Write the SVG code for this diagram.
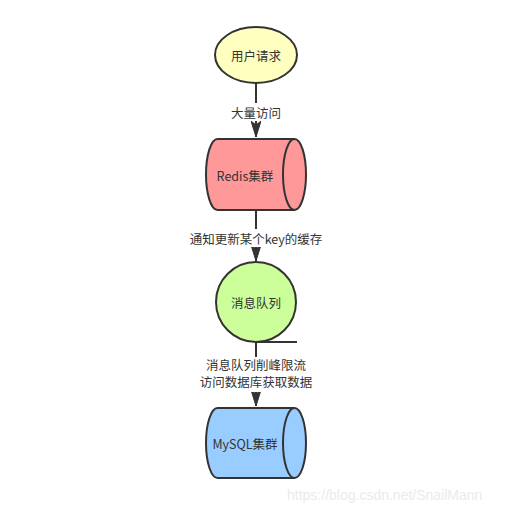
<svg xmlns="http://www.w3.org/2000/svg" width="517" height="512" viewBox="0 0 517 512">
<style>
.s{stroke:#333;stroke-width:2}
.t{font-family:"Noto Sans CJK SC","Liberation Sans",sans-serif;font-size:12.5px;fill:#333;text-anchor:middle;dominant-baseline:central}
.t2{font-family:"Liberation Sans","Noto Sans CJK SC",sans-serif}
.c{fill:none;stroke:#333;stroke-width:2}
</style>
<defs>
<marker id="arrv" viewBox="0 0 16 10" refX="16" refY="5" markerWidth="16" markerHeight="10" markerUnits="userSpaceOnUse" orient="auto">
<path d="M0,0 L16,5 L0,10 L4,5 Z" fill="#333" stroke="#333" stroke-width="1"/>
</marker>
</defs>
<rect width="517" height="512" fill="#fff"/>
<g id="connectors">
<path class="c" d="M256,83 V137" marker-end="url(#arrv)"/>
<path class="c" d="M256,210 V261" marker-end="url(#arrv)"/>
<path class="c" d="M297,342 H256 V406" marker-end="url(#arrv)"/>
<rect x="228" y="103" width="56" height="18" fill="#fff"/>
<text class="t" x="256" y="112">大量访问</text>
<rect x="186" y="229" width="140" height="18" fill="#fff"/>
<text class="t" x="256" y="238">通知更新某个key的缓存</text>
<rect x="196" y="357" width="120" height="35" fill="#fff"/>
<text class="t t2" x="256" y="366">消息队列削峰限流</text>
<text class="t t2" x="256" y="383">访问数据库获取数据</text>
</g>
<g id="user">
<ellipse class="s" cx="256" cy="55" rx="41" ry="28" fill="#FFFFC0"/>
<text class="t" x="256" y="55">用户请求</text>
</g>
<g id="redis">
<path class="s" fill="#FF9999" d="M217.5,139 H294.5 A11.5,35.5 0 0 1 294.5,210 H217.5 A11.5,35.5 0 0 1 217.5,139 Z"/>
<path class="s" fill="none" d="M294.5,139 A11.5,35.5 0 0 0 294.5,210"/>
<text class="t" x="245" y="175">Redis集群</text>
</g>
<g id="mq">
<circle class="s" cx="256" cy="302" r="40" fill="#CCFF99"/>
<text class="t" x="256" y="302">消息队列</text>
</g>
<g id="mysql">
<path class="s" fill="#99CCFF" d="M217.5,408 H294.5 A11.5,35 0 0 1 294.5,478 H217.5 A11.5,35 0 0 1 217.5,408 Z"/>
<path class="s" fill="none" d="M294.5,408 A11.5,35 0 0 0 294.5,478"/>
<text class="t" x="245" y="443">MySQL集群</text>
</g>
<text x="287" y="500" font-family="Liberation Sans,Arial,sans-serif" font-size="14" fill="#ebebeb">https://blog.csdn.net/SnailMann</text>
</svg>
